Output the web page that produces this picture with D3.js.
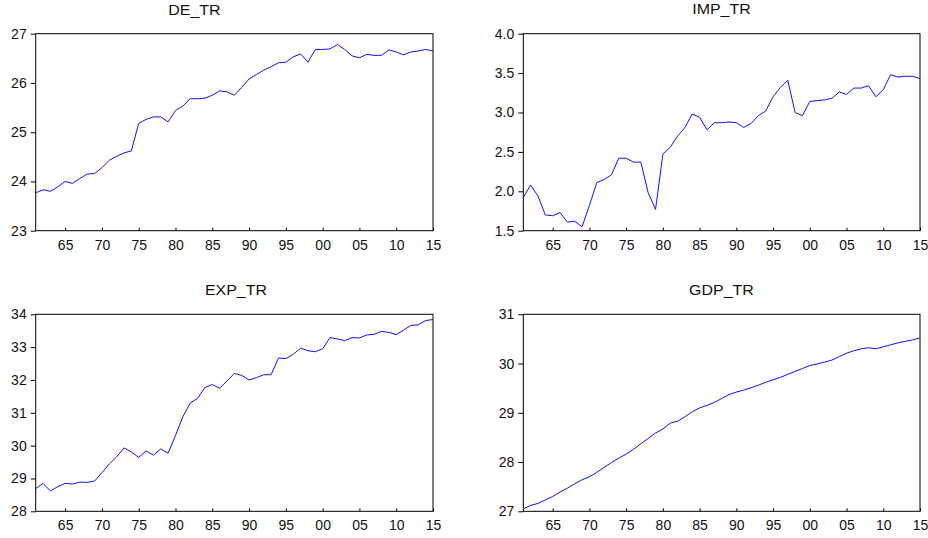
<!DOCTYPE html>
<html>
<head>
<meta charset="utf-8">
<script src="https://cdn.jsdelivr.net/npm/d3@7/dist/d3.min.js"></script>
<style>
html,body{margin:0;padding:0;background:#fff;}
svg text{font-family:"Liberation Sans",Arial,sans-serif;fill:#111;}
</style>
</head>
<body>
<svg id="chart" width="928" height="538"></svg>
<script>
const years = d3.range(1961, 2016);
const xTicks = [1965,1970,1975,1980,1985,1990,1995,2000,2005,2010,2015];

const deTR = [23.77,23.83,23.80,23.89,24.00,23.96,24.06,24.15,24.16,24.28,
  24.43,24.51,24.58,24.62,25.18,25.26,25.31,25.31,25.21,25.44,
  25.53,25.68,25.68,25.69,25.75,25.84,25.82,25.75,25.91,26.08,
  26.17,26.26,26.33,26.41,26.42,26.53,26.59,26.42,26.68,26.68,
  26.69,26.78,26.68,26.55,26.51,26.58,26.56,26.56,26.67,26.63,
  26.57,26.63,26.65,26.68,26.65];
const impTR = [1.92,2.08,1.94,1.70,1.69,1.73,1.61,1.62,1.55,1.82,
  2.11,2.15,2.21,2.42,2.42,2.37,2.37,1.98,1.77,2.47,
  2.56,2.70,2.81,2.98,2.94,2.78,2.87,2.87,2.88,2.87,
  2.81,2.86,2.96,3.02,3.20,3.32,3.41,3.00,2.96,3.14,
  3.15,3.16,3.18,3.26,3.23,3.31,3.31,3.34,3.20,3.29,
  3.48,3.45,3.46,3.46,3.43];
const expTR = [28.69,28.85,28.62,28.75,28.85,28.83,28.89,28.88,28.92,29.18,
  29.44,29.66,29.93,29.81,29.64,29.84,29.71,29.90,29.77,30.31,
  30.88,31.30,31.44,31.77,31.86,31.75,31.97,32.20,32.14,32.00,
  32.07,32.16,32.16,32.67,32.65,32.78,32.97,32.89,32.86,32.95,
  33.29,33.25,33.20,33.29,33.28,33.37,33.39,33.48,33.45,33.38,
  33.52,33.66,33.68,33.81,33.84];
const gdpTR = [27.05,27.12,27.16,27.23,27.30,27.39,27.47,27.56,27.64,27.70,
  27.79,27.89,27.99,28.08,28.16,28.26,28.37,28.48,28.59,28.67,
  28.79,28.83,28.92,29.02,29.10,29.15,29.21,29.29,29.37,29.42,
  29.46,29.51,29.56,29.62,29.67,29.72,29.78,29.84,29.90,29.96,
  29.99,30.03,30.07,30.14,30.21,30.26,30.30,30.32,30.30,30.34,
  30.38,30.42,30.45,30.48,30.52];

const titles = ["DE_TR","IMP_TR","EXP_TR","GDP_TR"];
const yDomains = [[23,27],[1.5,4.0],[28,34],[27,31]];
const yTickVals = [[23,24,25,26,27],[1.5,2.0,2.5,3.0,3.5,4.0],[28,29,30,31,32,33,34],[27,28,29,30,31]];
const yFormats = ["d",".1f","d","d"];
const series = [deTR, impTR, expTR, gdpTR];

const svg = d3.select("#chart");
const layout = [
  {x0:35.7, x1:433, y0:33.7, y1:230.7, tx:194.5, ty:15},
  {x0:523.3, x1:920, y0:33.7, y1:230.7, tx:721.5, ty:14},
  {x0:35.7, x1:433, y0:314.3, y1:511.3, tx:236, ty:295},
  {x0:523.3, x1:920, y0:314.3, y1:511.3, tx:721.5, ty:295}
];

layout.forEach((L, i) => {
  const x = d3.scaleLinear().domain([1961, 2015]).range([L.x0, L.x1]);
  const y = d3.scaleLinear().domain(yDomains[i]).range([L.y1, L.y0]);
  const g = svg.append("g");

  g.append("rect").attr("x", L.x0).attr("y", L.y0)
    .attr("width", L.x1 - L.x0).attr("height", L.y1 - L.y0)
    .attr("fill", "none").attr("stroke", "#000").attr("stroke-width", 1);

  const xa = g.append("g").attr("transform", `translate(0,${L.y1})`)
    .call(d3.axisBottom(x).tickValues(xTicks)
      .tickFormat(d => String(d % 100).padStart(2, "0"))
      .tickSizeInner(-3).tickSizeOuter(0).tickPadding(9));
  xa.select(".domain").remove();
  xa.selectAll("line").attr("stroke", "#000");
  xa.selectAll("text").attr("font-size", 14).attr("fill", "#111")
    .attr("font-family", "Liberation Sans, Arial, sans-serif");

  const ya = g.append("g").attr("transform", `translate(${L.x0},0)`)
    .call(d3.axisLeft(y).tickValues(yTickVals[i]).tickFormat(d3.format(yFormats[i]))
      .tickSizeInner(5).tickSizeOuter(0).tickPadding(4));
  ya.select(".domain").remove();
  ya.selectAll("line").attr("stroke", "#000");
  ya.selectAll("text").attr("font-size", 14).attr("fill", "#111")
    .attr("font-family", "Liberation Sans, Arial, sans-serif");

  const line = d3.line().x((d, j) => x(years[j])).y(d => y(d));
  g.append("path").datum(series[i]).attr("d", line)
    .attr("fill", "none").attr("stroke", "#1010ff").attr("stroke-width", 1);

  const t = g.append("text").attr("x", L.tx).attr("y", L.ty).attr("text-anchor", "middle")
    .attr("font-size", 14).text(titles[i]);
  const w = t.node().getComputedTextLength();
  t.attr("textLength", w * 1.14).attr("lengthAdjust", "spacingAndGlyphs");
});
</script>
</body>
</html>
